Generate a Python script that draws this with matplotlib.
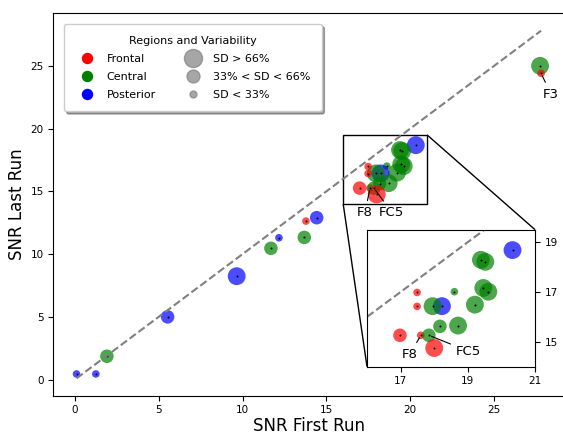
import matplotlib
matplotlib.use("Agg")
import matplotlib.pyplot as plt
from matplotlib.lines import Line2D
from mpl_toolkits.axes_grid1.inset_locator import mark_inset

# SNR per electrode, first vs last run
snr_first = [0.10, 1.25, 1.91, 5.53, 9.65, 11.69, 12.17, 13.68, 13.78, 14.42,
             20.33, 19.39, 19.52, 19.46, 19.61, 19.21, 18.60, 18.23, 17.95,
             17.49, 17.49, 18.17, 18.71, 16.98, 17.60, 17.84, 18.00,
             27.74, 27.80]
snr_last = [0.45, 0.45, 1.86, 5.00, 8.24, 10.46, 11.30, 11.33, 12.63, 12.90,
            18.68, 18.29, 18.21, 17.16, 17.01, 16.49, 17.01, 16.43, 16.43,
            16.98, 16.42, 15.62, 15.65, 15.26, 15.26, 15.26, 14.75,
            25.00, 24.40]
region = ["P", "P", "C", "P", "P", "C", "P", "C", "F", "P",
          "P", "C", "C", "C", "C", "C", "C", "P", "C",
          "F", "F", "C", "C", "F", "F", "C", "F",
          "C", "F"]
sd_class = ["S", "S", "M", "M", "L", "M", "S", "M", "S", "M",
            "L", "L", "L", "L", "L", "L", "S", "L", "L",
            "S", "S", "M", "L", "M", "S", "M", "L",
            "L", "S"]

region_names = ["Frontal", "Central", "Posterior"]
region_colors = {"F": "red", "C": "green", "P": "blue"}
sd_labels = ["SD > 66%", "33% < SD < 66%", "SD < 33%"]
sd_sizes = {"L": 165, "M": 95, "S": 30}

# labelled electrodes: (name, index, main text pos, inset text pos)
labels = [("F8", 24, (17.3, 13.3), (17.28, 14.5)),
          ("FC5", 25, (18.9, 13.3), (19.02, 14.62)),
          ("F3", 28, (28.4, 22.75), None)]

colors = [region_colors[r] for r in region]
sizes = [sd_sizes[s] for s in sd_class]
lo, hi = min(snr_first), max(snr_first)


def draw_points(ax):
    ax.scatter(snr_first, snr_last, s=sizes, c=colors, alpha=0.7, linewidths=0)
    ax.scatter(snr_first, snr_last, s=2, c="black", linewidths=0)
    ax.plot([lo, hi], [lo, hi], linestyle="--", color="gray", linewidth=1.5)


fig = plt.figure(figsize=(5.63, 4.34), dpi=100)
ax = fig.add_axes([0.0947, 0.0882, 0.9076, 0.8811])
draw_points(ax)
ax.set_xlabel("SNR First Run", fontsize=12, labelpad=1)
ax.set_ylabel("SNR Last Run", fontsize=12, labelpad=3)
ax.tick_params(labelsize=7.5)
ax.set_xticks([0, 5, 10, 15, 20, 25])
ax.set_yticks([0, 5, 10, 15, 20, 25])

for name, i, pos_main, pos_ins in labels:
    ax.annotate(name, xy=(snr_first[i], snr_last[i]), xytext=pos_main,
                ha="center", va="center", fontsize=9.5,
                arrowprops=dict(arrowstyle="-", color="black", lw=0.8))

handles = [Line2D([], [], marker="o", linestyle="", color=region_colors[k],
                  markersize=7.2, label=n)
           for k, n in zip(["F", "C", "P"], region_names)]
handles += [Line2D([], [], marker="o", linestyle="", color="gray", alpha=0.7,
                   markersize=ms, label=l)
            for ms, l in zip([13, 9.3, 5], sd_labels)]
ax.legend(handles=handles, ncol=2, title="Regions and Variability",
          loc="upper left", fontsize=8, title_fontsize=8, shadow=True,
          borderaxespad=0.95, labelspacing=0.72, borderpad=1.05,
          columnspacing=2.3)

# zoomed inset
axins = fig.add_axes([0.6519, 0.1551, 0.2984, 0.3157])
draw_points(axins)
axins.set_xlim(16, 21)
axins.set_ylim(14, 19.5)
axins.set_xticks([17, 19, 21])
axins.set_yticks([15, 17, 19])
axins.yaxis.tick_right()
axins.tick_params(labelsize=7.5)
for name, i, pos_main, pos_ins in labels:
    if pos_ins is None:
        continue
    axins.annotate(name, xy=(snr_first[i], snr_last[i]), xytext=pos_ins,
                   ha="center", va="center", fontsize=9.5,
                   arrowprops=dict(arrowstyle="-", color="black", lw=0.8))
mark_inset(ax, axins, loc1=1, loc2=3, fc="none", ec="black", lw=1)

fig.savefig("out.png", dpi=100)
